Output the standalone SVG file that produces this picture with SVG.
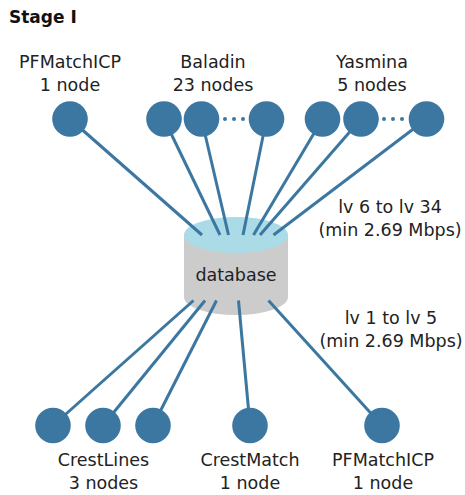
<svg xmlns="http://www.w3.org/2000/svg" width="465" height="495" viewBox="0 0 465 495">
  <style>
    .lbl { font-family: "DejaVu Sans", "Noto Sans", sans-serif; font-size: 17.5px; fill: #222; text-anchor: middle; }
    .title { font-family: "DejaVu Sans", sans-serif; font-size: 17px; font-weight: bold; fill: #111; }
    .node { fill: #3b77a0; }
    .dot { fill: #3b77a0; }
    .link { stroke: #3b77a0; stroke-width: 3; fill: none; }
  </style>
  <rect width="465" height="495" fill="#fff"/>

  <text class="title" x="9" y="23">Stage I</text>

  <!-- database cylinder -->
  <g id="database">
    <path d="M184,235 L184,297 A52,18 0 0 0 288,297 L288,235 Z" fill="#cccccc"/>
    <ellipse cx="236" cy="235" rx="52" ry="18" fill="#abdbe7"/>
    <text class="lbl" x="236" y="281">database</text>
  </g>

  <!-- links between site nodes and the database -->
  <g id="connectors">
    <line class="link" x1="70" y1="119" x2="202" y2="235"/>
    <line class="link" x1="164" y1="119" x2="220" y2="235"/>
    <line class="link" x1="201.5" y1="119" x2="228.5" y2="235"/>
    <line class="link" x1="266.5" y1="119" x2="243" y2="235"/>
    <line class="link" x1="322.5" y1="119" x2="253.5" y2="235"/>
    <line class="link" x1="361" y1="119" x2="260" y2="235"/>
    <line class="link" x1="426.5" y1="119" x2="273.5" y2="235"/>
    <line class="link" x1="193.5" y1="300.5" x2="53" y2="425.5"/>
    <line class="link" x1="205" y1="300.5" x2="103" y2="425.5"/>
    <line class="link" x1="216.5" y1="300.5" x2="153" y2="425.5"/>
    <line class="link" x1="238.5" y1="300.5" x2="250" y2="425.5"/>
    <line class="link" x1="268.5" y1="300.5" x2="382" y2="425.5"/>
  </g>

  <!-- top row -->
  <g id="pfmatchicp-top">
    <text class="lbl" x="70" y="68">PFMatchICP</text>
    <text class="lbl" x="70" y="91">1 node</text>
    <circle class="node" cx="70" cy="119" r="17.8"/>
  </g>
  <g id="baladin">
    <text class="lbl" x="213" y="68">Baladin</text>
    <text class="lbl" x="213" y="91">23 nodes</text>
    <circle class="node" cx="164" cy="119" r="17.8"/>
    <circle class="node" cx="201.5" cy="119" r="17.8"/>
    <circle class="dot" cx="225" cy="119" r="2"/>
    <circle class="dot" cx="234" cy="119" r="2"/>
    <circle class="dot" cx="243" cy="119" r="2"/>
    <circle class="node" cx="266.5" cy="119" r="17.8"/>
  </g>
  <g id="yasmina">
    <text class="lbl" x="372" y="68">Yasmina</text>
    <text class="lbl" x="372" y="91">5 nodes</text>
    <circle class="node" cx="322.5" cy="119" r="17.8"/>
    <circle class="node" cx="361" cy="119" r="17.8"/>
    <circle class="dot" cx="384" cy="119" r="2"/>
    <circle class="dot" cx="393" cy="119" r="2"/>
    <circle class="dot" cx="402" cy="119" r="2"/>
    <circle class="node" cx="426.5" cy="119" r="17.8"/>
  </g>

  <!-- link capacity notes -->
  <g id="upper-links-note">
    <text class="lbl" x="390" y="213">lv 6 to lv 34</text>
    <text class="lbl" x="390" y="236">(min 2.69 Mbps)</text>
  </g>
  <g id="lower-links-note">
    <text class="lbl" x="391" y="324">lv 1 to lv 5</text>
    <text class="lbl" x="391" y="347">(min 2.69 Mbps)</text>
  </g>

  <!-- bottom row -->
  <g id="crestlines">
    <circle class="node" cx="53" cy="425.5" r="17.8"/>
    <circle class="node" cx="103" cy="425.5" r="17.8"/>
    <circle class="node" cx="153" cy="425.5" r="17.8"/>
    <text class="lbl" x="103.5" y="466">CrestLines</text>
    <text class="lbl" x="103.5" y="489">3 nodes</text>
  </g>
  <g id="crestmatch">
    <circle class="node" cx="250" cy="425.5" r="17.8"/>
    <text class="lbl" x="250" y="466">CrestMatch</text>
    <text class="lbl" x="250" y="489">1 node</text>
  </g>
  <g id="pfmatchicp-bottom">
    <circle class="node" cx="382" cy="425.5" r="17.8"/>
    <text class="lbl" x="383" y="466">PFMatchICP</text>
    <text class="lbl" x="383" y="489">1 node</text>
  </g>
</svg>
